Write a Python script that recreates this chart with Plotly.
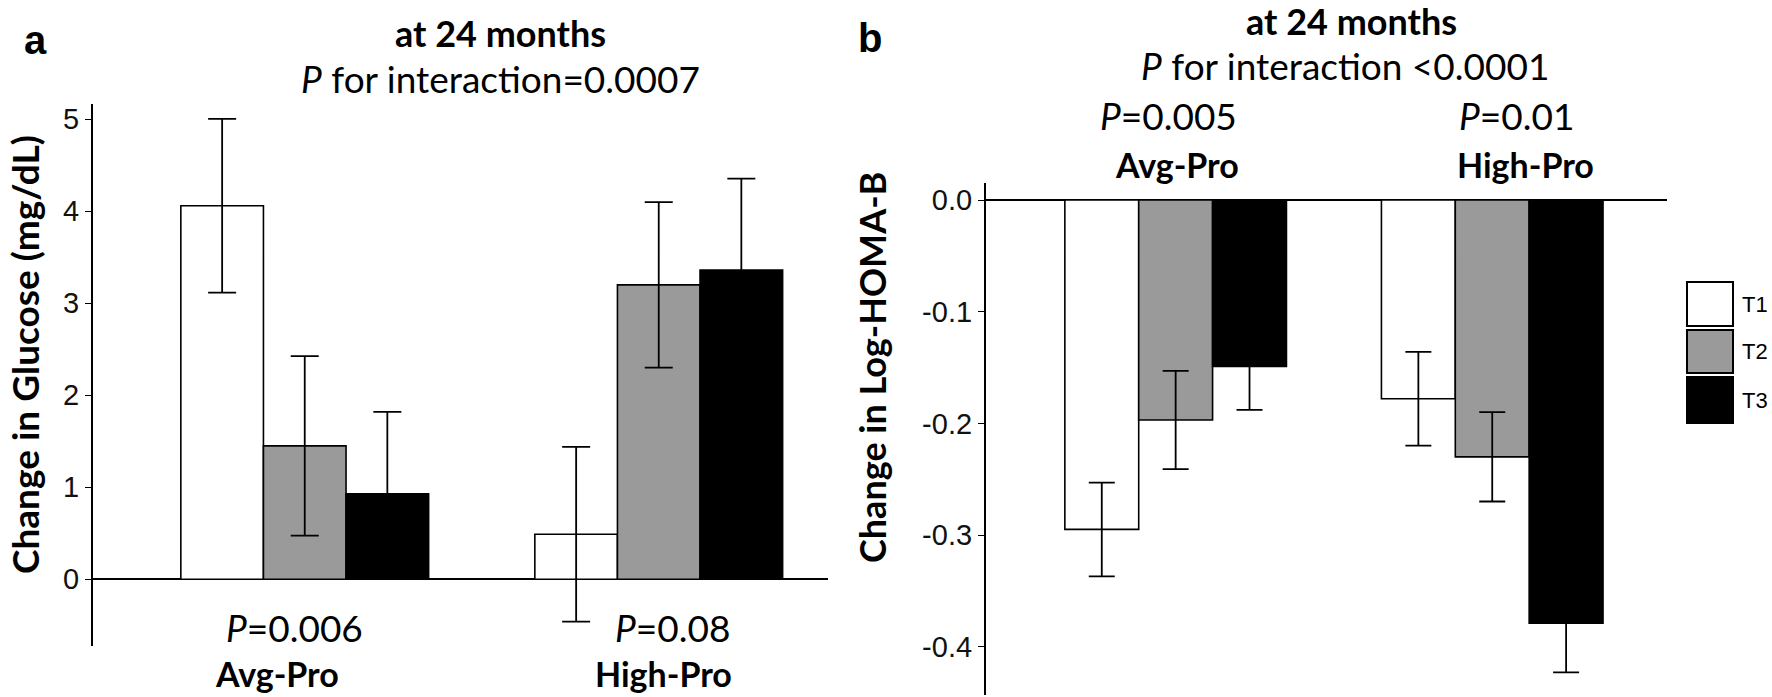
import plotly.graph_objects as go

W, H = 1772, 697

# ---------------- data ----------------
groups = ["Avg-Pro", "High-Pro"]
tertiles = ["T1", "T2", "T3"]

glucose_t1 = [4.06, 0.49]
glucose_t2 = [1.45, 3.20]
glucose_t3 = [0.93, 3.36]
glucose_t1_se = [0.945, 0.95]
glucose_t2_se = [0.975, 0.90]
glucose_t3_se = [0.89, 0.995]

homa_t1 = [-0.295, -0.178]
homa_t2 = [-0.197, -0.230]
homa_t3 = [-0.149, -0.379]
homa_t1_se = [0.042, 0.042]
homa_t2_se = [0.044, 0.040]
homa_t3_se = [0.039, 0.044]

glucose_p = ["0.006", "0.08"]
homa_p = ["0.005", "0.01"]
glucose_ticks = [0, 1, 2, 3, 4, 5]
homa_ticks = [0.0, -0.1, -0.2, -0.3, -0.4]

# ---------------- style ----------------
fills = ["#ffffff", "#9a9a9a", "#000000"]
TXT = "Lato, 'Open Sans', sans-serif"
NUM = "'Liberation Sans', Arial, sans-serif"


def px(x):
    return x / W


def py(y):
    return 1 - y / H


fig = go.Figure()

g_vals = [glucose_t1, glucose_t2, glucose_t3]
g_errs = [glucose_t1_se, glucose_t2_se, glucose_t3_se]
h_vals = [homa_t1, homa_t2, homa_t3]
h_errs = [homa_t1_se, homa_t2_se, homa_t3_se]

for i, t in enumerate(tertiles):
    fig.add_trace(go.Bar(
        x=groups, y=g_vals[i], name=t, xaxis="x", yaxis="y",
        marker=dict(color=fills[i], line=dict(color="black", width=1.6)),
        error_y=dict(type="data", array=g_errs[i], visible=True,
                     color="black", thickness=1.8, width=14),
        showlegend=False, hoverinfo="skip",
    ))
for i, t in enumerate(tertiles):
    fig.add_trace(go.Bar(
        x=groups, y=h_vals[i], name=t, xaxis="x2", yaxis="y2",
        marker=dict(color=fills[i], line=dict(color="black", width=1.6)),
        error_y=dict(type="data", array=h_errs[i], visible=True,
                     color="black", thickness=1.8, width=13),
        showlegend=False, hoverinfo="skip",
    ))

xcommon = dict(showticklabels=False, showline=False, ticks="", showgrid=False,
               zeroline=False, type="category", fixedrange=True)
ycommon = dict(showline=True, linecolor="black", linewidth=1.6, ticks="outside",
               ticklen=6, tickcolor="black", tickwidth=1.4, showgrid=False,
               zeroline=True, zerolinecolor="black", zerolinewidth=1.6, fixedrange=True,
               tickfont=dict(family=NUM, size=29, color="#111111"))

# glucose axis: 0 at y=579.3 px, 92 px per mg/dL
fig.update_layout(
    width=W, height=H, autosize=False,
    margin=dict(l=0, r=0, t=0, b=0),
    paper_bgcolor="white", plot_bgcolor="white",
    barmode="group", bargap=0.30, bargroupgap=0,
    xaxis=dict(domain=[px(92.7), px(828.3)], range=[-0.599, 1.479], anchor="y", **xcommon),
    yaxis=dict(domain=[py(646), py(104)], range=[-0.725, 5.166], anchor="x",
               tickvals=glucose_ticks, ticktext=[str(v) for v in glucose_ticks], **ycommon),
    xaxis2=dict(domain=[px(985.7), px(1667.3)], range=[-0.600, 1.553], anchor="y2", **xcommon),
    yaxis2=dict(domain=[py(695), py(183.3)], range=[-0.4433, 0.015], anchor="x2",
                tickvals=homa_ticks, ticktext=["%.1f" % v for v in homa_ticks], **ycommon),
)

ann = []


def text(x, y, s, size, bold=False, family=TXT, angle=0, xanchor="center"):
    if bold:
        s = "<b>" + s + "</b>"
    ann.append(dict(x=px(x), y=py(y), xref="paper", yref="paper", text=s,
                    showarrow=False, xanchor=xanchor, yanchor="middle", textangle=angle,
                    font=dict(family=family, size=size, color="black")))


# panel labels
text(35, 40, "a", 40, bold=True, family=NUM)
text(870, 38, "b", 40, bold=True, family=NUM)

# panel a titles
text(500, 33, "at 24 months", 36, bold=True)
text(500, 79, "<i>P</i> for interaction=0.0007", 37)
text(294, 627, "<i>P</i>=" + glucose_p[0], 37)
text(672, 627, "<i>P</i>=" + glucose_p[1], 37)
text(277, 673, groups[0], 34, bold=True)
text(663, 673, groups[1], 34, bold=True)
text(25, 355, "Change in Glucose (mg/dL)", 37, bold=True, angle=-90)

# panel b titles
text(1351, 21, "at 24 months", 36, bold=True)
text(1345, 65, "<i>P</i> for interaction &lt;0.0001", 37)
text(1168, 116, "<i>P</i>=" + homa_p[0], 37)
text(1516, 116, "<i>P</i>=" + homa_p[1], 37)
text(1177, 164, groups[0], 34, bold=True)
text(1525, 164, groups[1], 34, bold=True)
text(872, 368, "Change in Log-HOMA-B", 36, bold=True, angle=-90)

# legend (drawn manually)
leg_boxes = [(282, 326), (330, 373), (377, 423)]
shapes = []
for i, t in enumerate(tertiles):
    y0, y1 = leg_boxes[i]
    shapes.append(dict(type="rect", xref="paper", yref="paper",
                       x0=px(1687), x1=px(1733), y0=py(y1), y1=py(y0),
                       fillcolor=fills[i], line=dict(color="black", width=2)))
    text(1740, (y0 + y1) / 2, t, 22, family=NUM, xanchor="left")

fig.update_layout(annotations=ann, shapes=shapes)

# remove the default 8px page margin so the figure fills the window exactly
fig.write_html("out.html", config={"displayModeBar": False},
               post_script="document.body.style.margin='0';")
